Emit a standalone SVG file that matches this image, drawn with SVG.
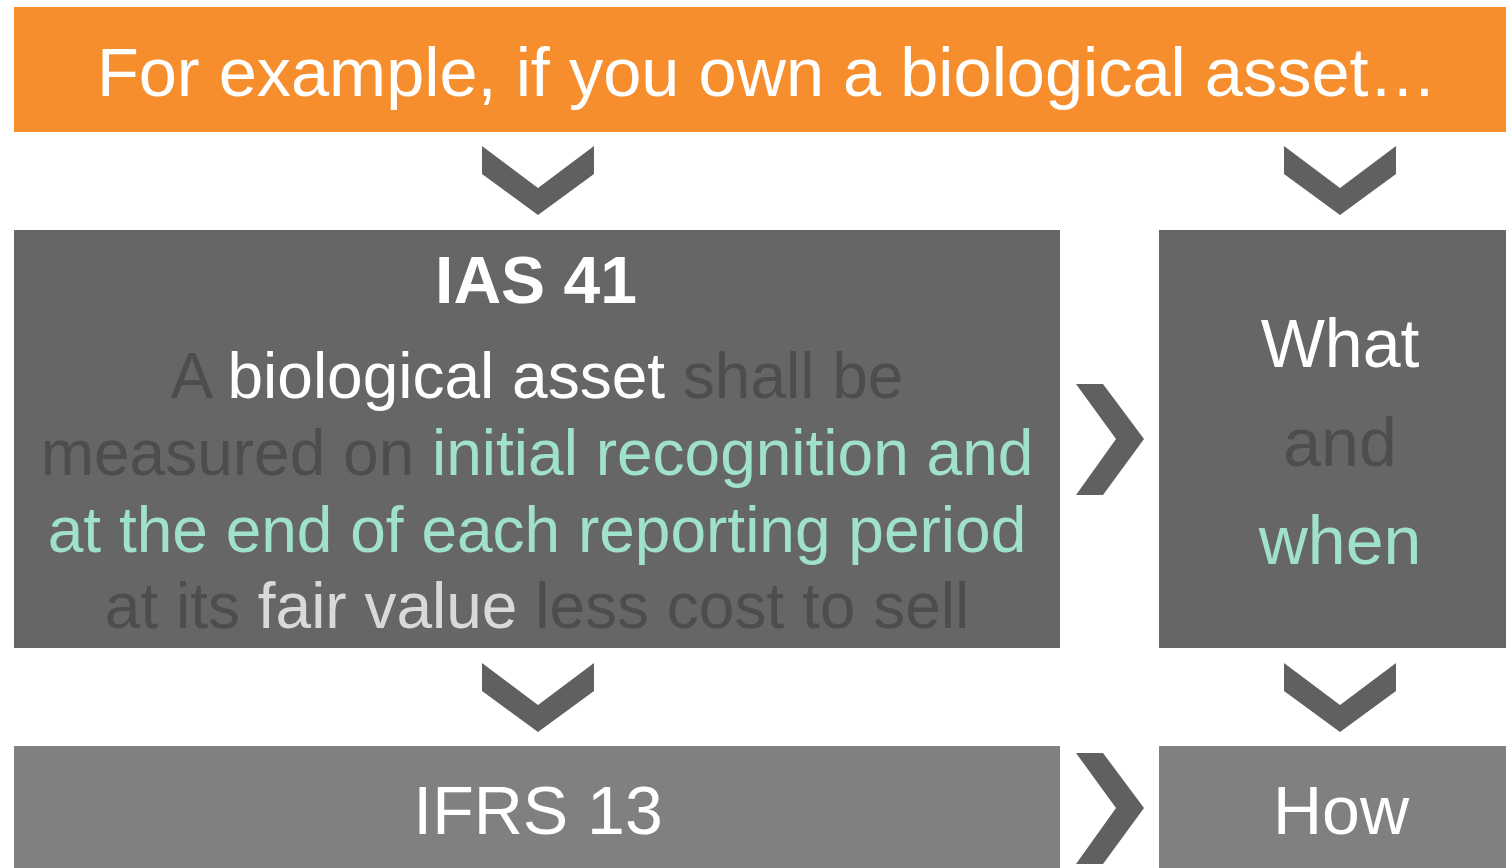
<svg xmlns="http://www.w3.org/2000/svg" width="1506" height="868" viewBox="0 0 1506 868">
<style>
text{font-family:"Liberation Sans",Arial,sans-serif;text-anchor:middle}
.w{fill:#FFFFFF}.d{fill:#4D4D4F}.m{fill:#A0E2C9}.l{fill:#D9D9D9}
.chev{fill:#5F6062}
</style>
<defs>
<polygon id="down" points="0,0 56,42 112,0 112,28 56,69 0,28"/>
<polygon id="right" points="0,0 27,0 68,55 27,111 0,111 40,55"/>
</defs>
<rect width="1506" height="868" fill="#FFFFFF"/>
<g id="header">
<rect x="14" y="7" width="1492" height="125" fill="#F68E2D"/>
<text x="767" y="96" font-size="68.5" class="w">For example, if you own a biological asset…</text>
</g>
<g id="ias41">
<rect x="14" y="230" width="1046" height="418" fill="#666666"/>
<text x="536" y="303" font-size="66" font-weight="bold" class="w">IAS 41</text>
<text x="537" y="398" font-size="64"><tspan class="d">A </tspan><tspan class="w">biological asset </tspan><tspan class="d">shall be</tspan></text>
<text x="537" y="475" font-size="64"><tspan class="d">measured on </tspan><tspan class="m">initial recognition and</tspan></text>
<text x="537" y="552" font-size="64" class="m">at the end of each reporting period</text>
<text x="537" y="628" font-size="64"><tspan class="d">at its </tspan><tspan class="l">fair value </tspan><tspan class="d">less cost to sell</tspan></text>
</g>
<g id="whatwhen">
<rect x="1159" y="230" width="347" height="418" fill="#666666"/>
<text x="1340" y="367" font-size="68" class="w">What</text>
<text x="1340" y="466" font-size="68" class="d">and</text>
<text x="1340" y="564" font-size="68" class="m">when</text>
</g>
<g id="ifrs13">
<rect x="14" y="746" width="1046" height="122" fill="#808080"/>
<text x="538" y="834" font-size="68" class="w">IFRS 13</text>
</g>
<g id="how">
<rect x="1159" y="746" width="347" height="122" fill="#808080"/>
<text x="1341" y="834" font-size="68" class="w">How</text>
</g>
<g id="connectors" class="chev">
<use href="#down" x="482" y="146"/>
<use href="#down" x="1284" y="146"/>
<use href="#down" x="482" y="663"/>
<use href="#down" x="1284" y="663"/>
<use href="#right" x="1076" y="384"/>
<use href="#right" x="1076" y="753"/>
</g>
</svg>
